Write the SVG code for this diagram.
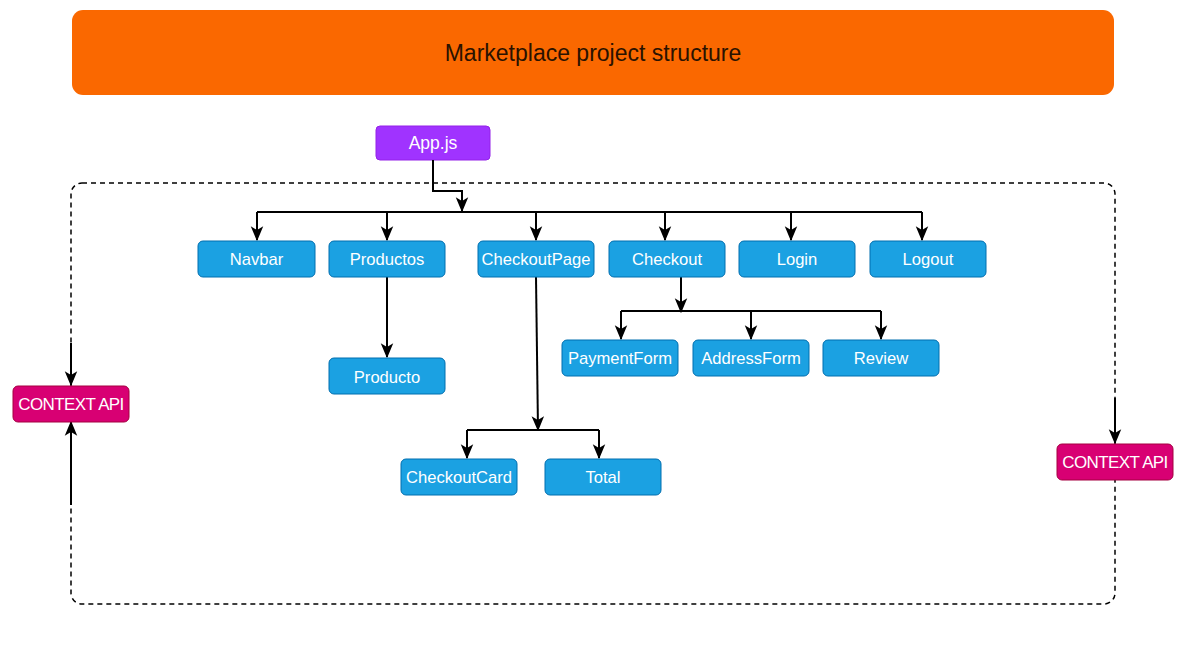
<svg xmlns="http://www.w3.org/2000/svg" width="1188" height="648" viewBox="0 0 1188 648">
<defs>
<marker id="arr" viewBox="0 0 12 12" refX="11" refY="6" markerWidth="15" markerHeight="15" markerUnits="userSpaceOnUse" orient="auto">
<path d="M0,1 L12,6 L0,11 L3,6 Z" fill="#000"/>
</marker>
<style>
.n rect{fill:#1BA1E2;stroke:#006EAF;stroke-width:1}
.n text{fill:#fff;font-family:"Liberation Sans",Arial,sans-serif;font-size:16.6px;text-anchor:middle;dominant-baseline:central}
.ctx rect{fill:#D80073;stroke:#A50040;stroke-width:1}
.ctx text{fill:#fff;font-family:"Liberation Sans",Arial,sans-serif;font-size:17px;text-anchor:middle;dominant-baseline:central;letter-spacing:-0.6px}
.c path,.c line{fill:none;stroke:#000;stroke-width:2}
.c .a{marker-end:url(#arr)}
</style>
</defs>
<rect width="1188" height="648" fill="#fff"/>
<g id="title">
<rect x="72" y="10" width="1042" height="85" rx="11" fill="#FA6800"/>
<text x="593" y="53" font-family="'Liberation Sans',Arial,sans-serif" font-size="23" fill="#2a1200" text-anchor="middle" dominant-baseline="central">Marketplace project structure</text>
</g>
<g id="container">
<rect x="71" y="183" width="1044" height="421" rx="11" fill="none" stroke="#000" stroke-width="1.5" stroke-dasharray="5,4"/>
</g>
<g id="app">
<rect x="376" y="126" width="114" height="34" rx="4" fill="#A033FF" stroke="#9422E8" stroke-width="1"/>
<text x="433" y="143" font-family="'Liberation Sans',Arial,sans-serif" font-size="17.5" fill="#fff" text-anchor="middle" dominant-baseline="central">App.js</text>
</g>
<g id="connectors" class="c">
<path class="a" d="M433,160 V191 H462 V211"/>
<path d="M257,212 H922"/>
<path class="a" d="M257,212 V240"/>
<path class="a" d="M387,212 V240"/>
<path class="a" d="M536,212 V240"/>
<path class="a" d="M665,212 V240"/>
<path class="a" d="M791,212 V240"/>
<path class="a" d="M922,212 V240"/>
<path class="a" d="M387,277 V357"/>
<path class="a" d="M536,277 L538,430"/>
<path d="M467,430 H599"/>
<path class="a" d="M467,430 V458"/>
<path class="a" d="M599,430 V458"/>
<path class="a" d="M681,277 V312"/>
<path d="M621,311 H881"/>
<path class="a" d="M621,311 V339"/>
<path class="a" d="M751,311 V339"/>
<path class="a" d="M881,311 V339"/>
<path class="a" d="M71,343 V385"/>
<path class="a" d="M71,505 V422"/>
<path class="a" d="M1115,398 V443"/>
</g>
<g id="navbar" class="n"><rect x="198" y="241" width="117" height="36" rx="5"/><text x="256.5" y="259">Navbar</text></g>
<g id="productos" class="n"><rect x="329" y="241" width="116" height="36" rx="5"/><text x="387" y="259">Productos</text></g>
<g id="checkoutpage" class="n"><rect x="478" y="241" width="116" height="36" rx="5"/><text x="536" y="259">CheckoutPage</text></g>
<g id="checkout" class="n"><rect x="609" y="241" width="116" height="36" rx="5"/><text x="667" y="259">Checkout</text></g>
<g id="login" class="n"><rect x="739" y="241" width="116" height="36" rx="5"/><text x="797" y="259">Login</text></g>
<g id="logout" class="n"><rect x="870" y="241" width="116" height="36" rx="5"/><text x="928" y="259">Logout</text></g>
<g id="producto" class="n"><rect x="329" y="358" width="116" height="36" rx="5"/><text x="387" y="377">Producto</text></g>
<g id="paymentform" class="n"><rect x="562" y="340" width="116" height="36" rx="5"/><text x="620" y="358">PaymentForm</text></g>
<g id="addressform" class="n"><rect x="693" y="340" width="116" height="36" rx="5"/><text x="751" y="358">AddressForm</text></g>
<g id="review" class="n"><rect x="823" y="340" width="116" height="36" rx="5"/><text x="881" y="358">Review</text></g>
<g id="checkoutcard" class="n"><rect x="401" y="459" width="116" height="36" rx="5"/><text x="459" y="477">CheckoutCard</text></g>
<g id="total" class="n"><rect x="545" y="459" width="116" height="36" rx="5"/><text x="603" y="477">Total</text></g>
<g id="ctx-left" class="ctx"><rect x="13" y="386" width="116" height="36" rx="5"/><text x="71" y="404">CONTEXT API</text></g>
<g id="ctx-right" class="ctx"><rect x="1057" y="444" width="116" height="36" rx="5"/><text x="1115" y="462">CONTEXT API</text></g>
</svg>
